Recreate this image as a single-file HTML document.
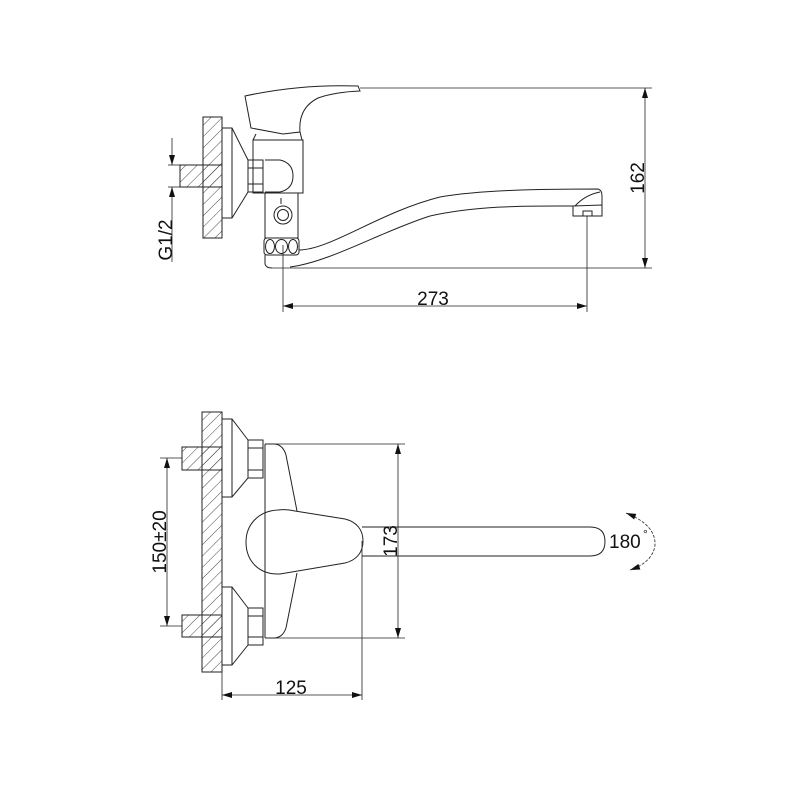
<!DOCTYPE html>
<html><head><meta charset="utf-8"><style>
html,body{margin:0;padding:0;background:#fff;}
svg{display:block;}
text{font-family:"Liberation Sans",Arial,sans-serif;fill:#111;}
</style></head><body>
<svg width="800" height="800" viewBox="0 0 800 800" xmlns="http://www.w3.org/2000/svg">
<defs>
<pattern id="h" patternUnits="userSpaceOnUse" width="8" height="8" patternTransform="rotate(45)">
<line x1="0" y1="0" x2="0" y2="8" stroke="#333" stroke-width="0.9"/>
</pattern>
<marker id="a" viewBox="0 0 10 6" refX="10" refY="3" markerWidth="10" markerHeight="6" markerUnits="userSpaceOnUse" orient="auto-start-reverse">
<path d="M0,0 L10,3 L0,6 Z" fill="#111"/>
</marker>
</defs>
<g fill="none" stroke="#222" stroke-width="1">
<!-- ===== TOP VIEW ===== -->
<rect x="203" y="117" width="19" height="121" fill="url(#h)"/>
<rect x="180" y="165" width="42" height="22" fill="url(#h)"/>
<path d="M222,128 L232,128 L248,160 L248,192 L232,218 L222,218"/>
<line x1="232" y1="128" x2="232" y2="218"/>
<rect x="248" y="160" width="15" height="32"/>
<line x1="248" y1="168" x2="263" y2="168"/><line x1="248" y1="184" x2="263" y2="184"/>
<path d="M245,96 L251,128 L283,134 L300,132 Q298,108 318,98 Q335,92 360,91 L358,86 Q300,84 245,96 Z"/>
<path d="M256,134 L253,140 M300,132 L302,140"/>
<rect x="253" y="140" width="50" height="53"/>
<path d="M265,160 L280,160 Q293,163 293,176 Q293,189 280,192 L265,192"/>
<rect x="265" y="193" width="33" height="45"/>
<circle cx="283" cy="215" r="9"/><circle cx="283" cy="215" r="5.5"/>
<line x1="281" y1="198" x2="281" y2="204"/>
<rect x="264" y="238" width="35" height="17" rx="3"/>
<ellipse cx="270" cy="246.5" rx="4.5" ry="7"/><ellipse cx="281.5" cy="246.5" rx="6" ry="7"/><ellipse cx="293" cy="246.5" rx="4.5" ry="7"/>
<path d="M265,255 L265,264 Q266,268 272,268"/>
<path d="M299,250 C330,250 380,212 440,197 C480,190 540,189 598,189 Q602,190 602,196 L602,205"/>
<path d="M290,267 C330,262 380,232 430,216 C480,205 530,206 573,206"/>
<path d="M573,206 L602,205 L602,216 L573,216 Z"/>
<rect x="583" y="211" width="9" height="5"/>
<path d="M575,206 Q585,195 600,192"/>
<line x1="360" y1="88" x2="652" y2="88" stroke-width="0.8"/>
<line x1="272" y1="268" x2="652" y2="268" stroke-width="0.8"/>
<line x1="645" y1="88" x2="645" y2="268" marker-start="url(#a)" marker-end="url(#a)" stroke-width="0.8"/>
<line x1="283" y1="245" x2="283" y2="312" stroke-width="0.8"/>
<line x1="587" y1="216" x2="587" y2="312" stroke-width="0.8"/>
<line x1="283" y1="306" x2="587" y2="306" marker-start="url(#a)" marker-end="url(#a)" stroke-width="0.8"/>
<line x1="168" y1="165" x2="180" y2="165" stroke-width="0.8"/>
<line x1="168" y1="187" x2="180" y2="187" stroke-width="0.8"/>
<line x1="172" y1="138" x2="172" y2="165" marker-end="url(#a)" stroke-width="0.8"/>
<line x1="172" y1="262" x2="172" y2="187" marker-end="url(#a)" stroke-width="0.8"/>

<!-- ===== BOTTOM VIEW ===== -->
<rect x="202" y="412" width="20" height="260" fill="url(#h)"/>
<rect x="182" y="447" width="40" height="23" fill="url(#h)"/>
<rect x="182" y="615" width="40" height="22" fill="url(#h)"/>
<path d="M222,419 L232,419 L248,440 L248,478 L232,497 L222,497"/>
<line x1="232" y1="419" x2="232" y2="497"/>
<path d="M222,587 L232,587 L248,608 L248,645 L232,665 L222,665"/>
<line x1="232" y1="587" x2="232" y2="665"/>
<rect x="248" y="440" width="15" height="38"/>
<line x1="248" y1="448" x2="263" y2="448"/><line x1="248" y1="470" x2="263" y2="470"/>
<rect x="248" y="608" width="15" height="37"/>
<line x1="248" y1="616" x2="263" y2="616"/><line x1="248" y1="637" x2="263" y2="637"/>
<line x1="265" y1="444" x2="265" y2="638"/>
<path d="M265,444 L275,444 Q283,445 286,455 L297,511"/>
<path d="M297,573 L286,628 Q283,637 275,638 L265,638"/>
<path d="M278,510 C258,511 246,525 246,542 C246,560 258,575 280,574 L345,563 C357,560 363,552 363,541 C363,530 357,522 345,519 L295,511 Q287,509 278,510 Z"/>
<path d="M362,527 L590,527 Q605,527 605,541.5 Q605,556 590,556 L362,556"/>
<path d="M626,513 Q656,525 655,545 Q653,562 630,570" stroke-dasharray="3,1.5" marker-start="url(#a)" marker-end="url(#a)" stroke-width="0.8"/>
<line x1="275" y1="444" x2="405" y2="444" stroke-width="0.8"/>
<line x1="275" y1="638" x2="405" y2="638" stroke-width="0.8"/>
<line x1="398" y1="444" x2="398" y2="638" marker-start="url(#a)" marker-end="url(#a)" stroke-width="0.8"/>
<line x1="362" y1="541" x2="362" y2="700" stroke-width="0.8"/>
<line x1="222" y1="672" x2="222" y2="700" stroke-width="0.8"/>
<line x1="222" y1="695" x2="362" y2="695" marker-start="url(#a)" marker-end="url(#a)" stroke-width="0.8"/>
<line x1="160" y1="458" x2="182" y2="458" stroke-width="0.8"/>
<line x1="160" y1="626" x2="182" y2="626" stroke-width="0.8"/>
<line x1="167" y1="458" x2="167" y2="626" marker-start="url(#a)" marker-end="url(#a)" stroke-width="0.8"/>
</g>
<g font-size="19">
<text x="433" y="305" text-anchor="middle">273</text>
<text transform="translate(644,178) rotate(-90)" text-anchor="middle">162</text>
<text transform="translate(172,240) rotate(-90)" text-anchor="middle">G1/2</text>
<text x="291" y="694" text-anchor="middle">125</text>
<text transform="translate(397,541) rotate(-90)" text-anchor="middle">173</text>
<text transform="translate(166,542) rotate(-90)" text-anchor="middle">150±20</text>
<text x="609" y="548">180</text>
<text x="643" y="538" font-size="12">°</text>
</g>
</svg>
</body></html>
